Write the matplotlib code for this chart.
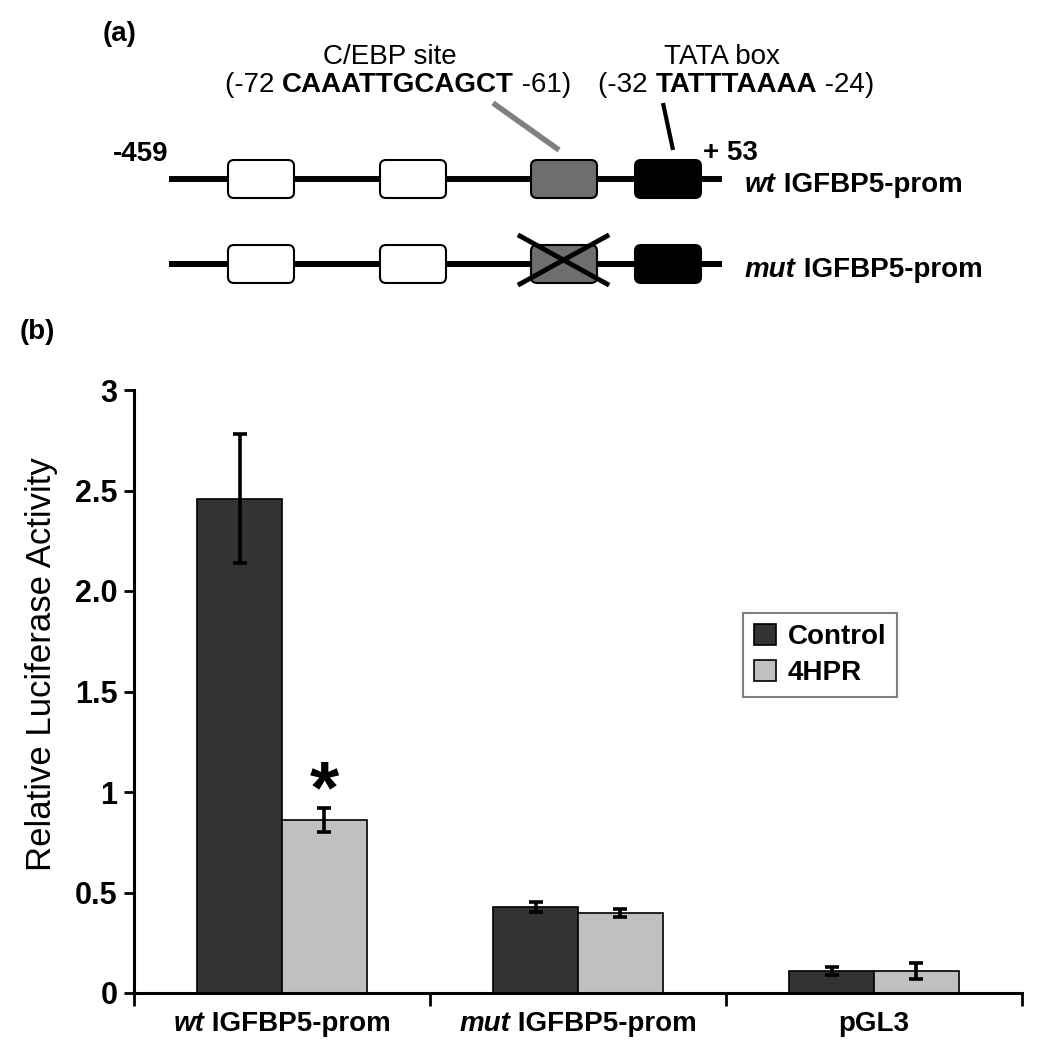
import numpy as np
import matplotlib
matplotlib.use("Agg")
import matplotlib.pyplot as plt
from matplotlib.patches import FancyBboxPatch
from matplotlib.offsetbox import TextArea, HPacker, AnnotationBbox

plt.rcParams['font.family'] = ['Liberation Sans', 'DejaVu Sans']

# data
groups = [("wt", " IGFBP5-prom"), ("mut", " IGFBP5-prom"), ("", "pGL3")]
series = ["Control", "4HPR"]
control = [2.46, 0.43, 0.11]
control_err = [0.32, 0.025, 0.02]
hpr = [0.86, 0.40, 0.11]
hpr_err = [0.06, 0.02, 0.04]
yticks = [0, 0.5, 1, 1.5, 2, 2.5, 3]
ytick_labels = ["0", "0.5", "1", "1.5", "2.0", "2.5", "3"]

colors = ["#333333", "#c0c0c0"]
FS = 20


def mixed_text(ax, parts, xy, align, xycoords="data", xybox=None, boxcoords=None):
    # parts: list of (text, weight, style)
    areas = [TextArea(t, textprops=dict(fontsize=FS, fontweight=w, fontstyle=s))
             for t, w, s in parts if t]
    box = HPacker(children=areas, pad=0, sep=0, align="baseline")
    ab = AnnotationBbox(box, xy, xycoords=xycoords, xybox=xybox, boxcoords=boxcoords,
                        frameon=False, box_alignment=align, pad=0)
    ax.add_artist(ab)


fig = plt.figure(figsize=(10.43, 10.5), dpi=100)

# ---- panel (a): promoter schematic, drawn in pixel coordinates ----
dg = fig.add_axes([0, 0, 1, 1])
dg.set_xlim(0, 1043)
dg.set_ylim(1050, 0)
dg.axis("off")

dg.text(103, 34, "(a)", fontsize=FS, fontweight="bold", ha="left", va="center")
dg.text(20, 332, "(b)", fontsize=FS, fontweight="bold", ha="left", va="center")

dg.text(390, 57, "C/EBP site", fontsize=FS, ha="center", va="center")
dg.text(722, 57, "TATA box", fontsize=FS, ha="center", va="center")
mixed_text(dg, [("(-72 ", "normal", "normal"), ("CAAATTGCAGCT", "bold", "normal"),
                (" -61)", "normal", "normal")], (398, 85), (0.5, 0.5))
mixed_text(dg, [("(-32 ", "normal", "normal"), ("TATTTAAAA", "bold", "normal"),
                (" -24)", "normal", "normal")], (736, 85), (0.5, 0.5))

dg.plot([493, 559], [103, 150], color="#808080", lw=4, solid_capstyle="butt")
dg.plot([663, 673], [103, 150], color="black", lw=3, solid_capstyle="butt")

dg.text(141, 154, "-459", fontsize=FS, fontweight="bold", ha="center", va="center")
dg.text(730, 153, "+ 53", fontsize=FS, fontweight="bold", ha="center", va="center")

box_x = [(228, "white"), (380, "white"), (531, "#6e6e6e"), (635, "black")]
for row_y, tag in [(179, "wt"), (264, "mut")]:
    dg.plot([169, 722], [row_y, row_y], color="black", lw=4.3, solid_capstyle="butt", zorder=1)
    for bx, fc in box_x:
        dg.add_patch(FancyBboxPatch((bx, row_y - 19), 66, 38,
                                    boxstyle="round,pad=0,rounding_size=6",
                                    fc=fc, ec="black", lw=1.5, zorder=2))
    mixed_text(dg, [(tag, "bold", "italic"), (" IGFBP5-prom", "bold", "normal")],
               (745, row_y + 6), (0.0, 0.5))

# cross over mutated C/EBP site
dg.plot([520, 607], [236, 284], color="black", lw=3.5, zorder=3)
dg.plot([520, 607], [284, 236], color="black", lw=3.5, zorder=3)

# ---- panel (b): bar chart ----
ax = fig.add_axes([134 / 1043, 1 - 993 / 1050, (1022 - 134) / 1043, (993 - 390) / 1050])
ax.patch.set_alpha(0)

x = np.arange(len(groups))
w = 0.287
err_kw = dict(elinewidth=2.6, capsize=5, capthick=2.6, ecolor="black")
ax.bar(x - w / 2, control, w, yerr=control_err, color=colors[0], edgecolor="black",
       linewidth=1.2, label=series[0], error_kw=err_kw, zorder=2)
ax.bar(x + w / 2, hpr, w, yerr=hpr_err, color=colors[1], edgecolor="black",
       linewidth=1.2, label=series[1], error_kw=err_kw, zorder=2)

ax.text(x[0] + w / 2, hpr[0] + hpr_err[0] - 0.02, "*", fontsize=54, fontweight="bold",
        ha="center", va="baseline")

ax.set_xlim(-0.5, len(groups) - 0.5)
ax.set_ylim(0, 3)
ax.set_yticks(yticks)
ax.set_yticklabels(ytick_labels, fontsize=22, fontweight="bold")
ax.set_xticks(np.arange(len(groups) + 1) - 0.5)
ax.set_xticklabels([])
ax.tick_params(axis="x", direction="out", length=9, width=2)
ax.tick_params(axis="y", direction="out", length=7, width=2, pad=5)
for s in ["top", "right"]:
    ax.spines[s].set_visible(False)
for s in ["left", "bottom"]:
    ax.spines[s].set_linewidth(2.2)

for i, (it, rest) in enumerate(groups):
    mixed_text(ax, [(it, "bold", "italic"), (rest, "bold", "normal")], (x[i], 0),
               (0.5, 1.0), xycoords=ax.get_xaxis_transform(),
               xybox=(0, -13), boxcoords="offset points")

ax.set_ylabel("Relative Luciferase Activity", fontsize=25)
ax.yaxis.set_label_coords(-0.086, 0.545)

leg = ax.legend(loc="upper left", bbox_to_anchor=(743 / 1043, 1 - 613 / 1050),
                bbox_transform=fig.transFigure, borderaxespad=0, fancybox=False,
                edgecolor="#808080", framealpha=1, handlelength=0.8, handleheight=0.8,
                handletextpad=0.4, labelspacing=0.35, borderpad=0.4,
                prop=dict(size=FS, weight="bold"))
leg.get_frame().set_linewidth(1.5)

fig.savefig("out.png", dpi=100)
